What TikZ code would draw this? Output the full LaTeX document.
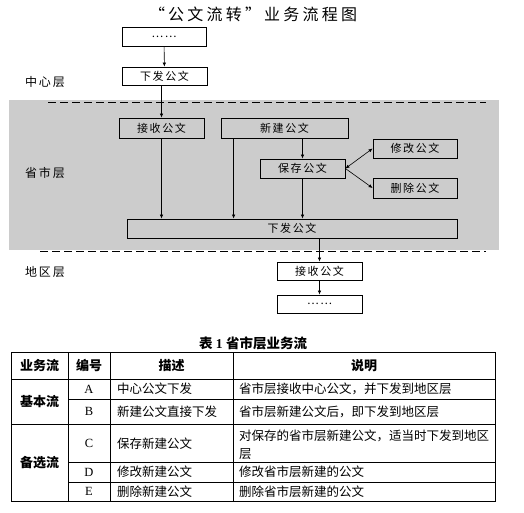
\documentclass[tikz,border=0pt]{standalone}
\usepackage{fontspec}
\setmainfont{Liberation Serif}
\newfontfamily\cjk{Noto Sans CJK SC}
\newfontfamily\cjksp{Noto Sans CJK SC}[LetterSpace=15]
\newfontfamily\cjktitle{Noto Sans CJK SC}[LetterSpace=20]
\usetikzlibrary{arrows.meta, positioning}
\definecolor{layergray}{RGB}{204,204,204}

\begin{document}
\begin{tikzpicture}[x=1pt, y=-1pt]
    \tikzstyle{block} = [rectangle, draw, line width=0.8pt, inner sep=0pt, minimum width=85pt, minimum height=19pt, font=\cjksp\fontsize{11}{13}\selectfont]
    \tikzstyle{line} = [draw, line width=0.6pt, -{Latex[length=4pt, width=3.5pt]}]
    \tikzstyle{layer} = [anchor=west, inner sep=0pt, font=\cjksp\fontsize{12}{14}\selectfont]
    \tikzstyle{cell} = [inner sep=0pt, font=\cjk\fontsize{12.5}{15}\selectfont]
    \tikzstyle{head} = [inner sep=0pt, font=\cjk\bfseries\fontsize{13}{15}\selectfont]
    \useasboundingbox (0,0) rectangle (524,513);

    % 省市层背景与分隔线
    \fill[layergray] (9,100) rectangle (499,250);
    \draw[line width=0.8pt, dash pattern=on 8pt off 4pt] (48,102) -- (486,102);
    \draw[line width=0.8pt, dash pattern=on 8pt off 4pt] (40,251) -- (486,251);

    % 标题与层名
    \node[font=\cjktitle\fontsize{16}{19}\selectfont] (title) at (253,14) {“公文流转”业务流程图};
    \node[layer] (center) at (25,82) {中心层};
    \node[layer] (province) at (25,173) {省市层};
    \node[layer] (district) at (25,272) {地区层};

    % 定义节点
    \node[block, minimum width=84pt] (ctop) at (164,36.5) {……};
    \node[block, minimum height=18pt] (csend) at (164.5,76) {下发公文};
    \node[block, minimum height=20pt] (precv) at (161.5,128) {接收公文};
    \node[block, minimum width=127pt, minimum height=20pt] (pnew) at (284.5,128) {新建公文};
    \node[block] (psave) at (302.5,168.5) {保存公文};
    \node[block, minimum width=84pt] (pmodify) at (415,148.5) {修改公文};
    \node[block, minimum width=84pt, minimum height=20pt] (pdelete) at (415,188) {删除公文};
    \node[block, minimum width=330pt] (psend) at (292,228.5) {下发公文};
    \node[block, minimum height=18pt] (drecv) at (319.5,271) {接收公文};
    \node[block, minimum height=18pt] (dmore) at (319.5,304) {……};

    % 添加箭头
    \path [line] (ctop) -- (csend);
    \path [line] (precv.north |- csend.south) -- (precv.north);
    \path [line] (precv.south) -- (precv.south |- psend.north);
    \path [line] ([xshift=13pt]pnew.south west) -- ([xshift=13pt]pnew.south west |- psend.north);
    \path [line] (psave.north |- pnew.south) -- (psave.north);
    \path [line] (psave.south) -- (psave.south |- psend.north);
    \path [line, {Latex[length=4pt, width=3.5pt]}-{Latex[length=4pt, width=3.5pt]}] (psave.east) -- (pmodify.west);
    \path [line] (psave.east) -- (pdelete.west);
    \path [line] (drecv.north |- psend.south) -- (drecv.north);
    \path [line] (drecv) -- (dmore);

    % 表1
    \node[font=\bfseries\fontsize{13.5}{16}\selectfont] (caption) at (253,343) {{\cjk 表}\ 1\ {\cjk 省市层业务流}};
    \draw[line width=0.8pt] (11,352) rectangle (495,501);
    \draw[line width=0.8pt] (11,379) -- (495,379);
    \draw[line width=0.8pt] (68,399) -- (495,399);
    \draw[line width=0.8pt] (11,424) -- (495,424);
    \draw[line width=0.8pt] (68,462) -- (495,462);
    \draw[line width=0.8pt] (68,482) -- (495,482);
    \draw[line width=0.8pt] (68,352) -- (68,501);
    \draw[line width=0.8pt] (110,352) -- (110,501);
    \draw[line width=0.8pt] (233,352) -- (233,501);

    \node[head] (hflow) at (39.5,365.5) {业务流};
    \node[head] (hid) at (89,365.5) {编号};
    \node[head] (hdesc) at (171.5,365.5) {描述};
    \node[head] (hnote) at (364,365.5) {说明};
    \node[head] (basic) at (39.5,401.5) {基本流};
    \node[head] (alt) at (39.5,462.5) {备选流};

    \node[cell, font=\fontsize{12.5}{15}\selectfont] (ida) at (89,389) {A};
    \node[cell, font=\fontsize{12.5}{15}\selectfont] (idb) at (89,411.5) {B};
    \node[cell, font=\fontsize{12.5}{15}\selectfont] (idc) at (89,443) {C};
    \node[cell, font=\fontsize{12.5}{15}\selectfont] (idd) at (89,472) {D};
    \node[cell, font=\fontsize{12.5}{15}\selectfont] (ide) at (89,491.5) {E};

    \node[cell, anchor=west] (desca) at (117,389) {中心公文下发};
    \node[cell, anchor=west] (descb) at (117,411.5) {新建公文直接下发};
    \node[cell, anchor=west] (descc) at (117,444) {保存新建公文};
    \node[cell, anchor=west] (descd) at (117,472) {修改新建公文};
    \node[cell, anchor=west] (desce) at (117,491.5) {删除新建公文};

    \node[cell, anchor=west] (notea) at (239,389) {省市层接收中心公文，并下发到地区层};
    \node[cell, anchor=west] (noteb) at (239,411.5) {省市层新建公文后，即下发到地区层};
    \node[cell, anchor=west] (notec) at (239,436) {对保存的省市层新建公文，适当时下发到地区};
    \node[cell, anchor=west] (notec2) at (239,454) {层};
    \node[cell, anchor=west] (noted) at (239,472) {修改省市层新建的公文};
    \node[cell, anchor=west] (notee) at (239,491.5) {删除省市层新建的公文};
\end{tikzpicture}
\end{document}
